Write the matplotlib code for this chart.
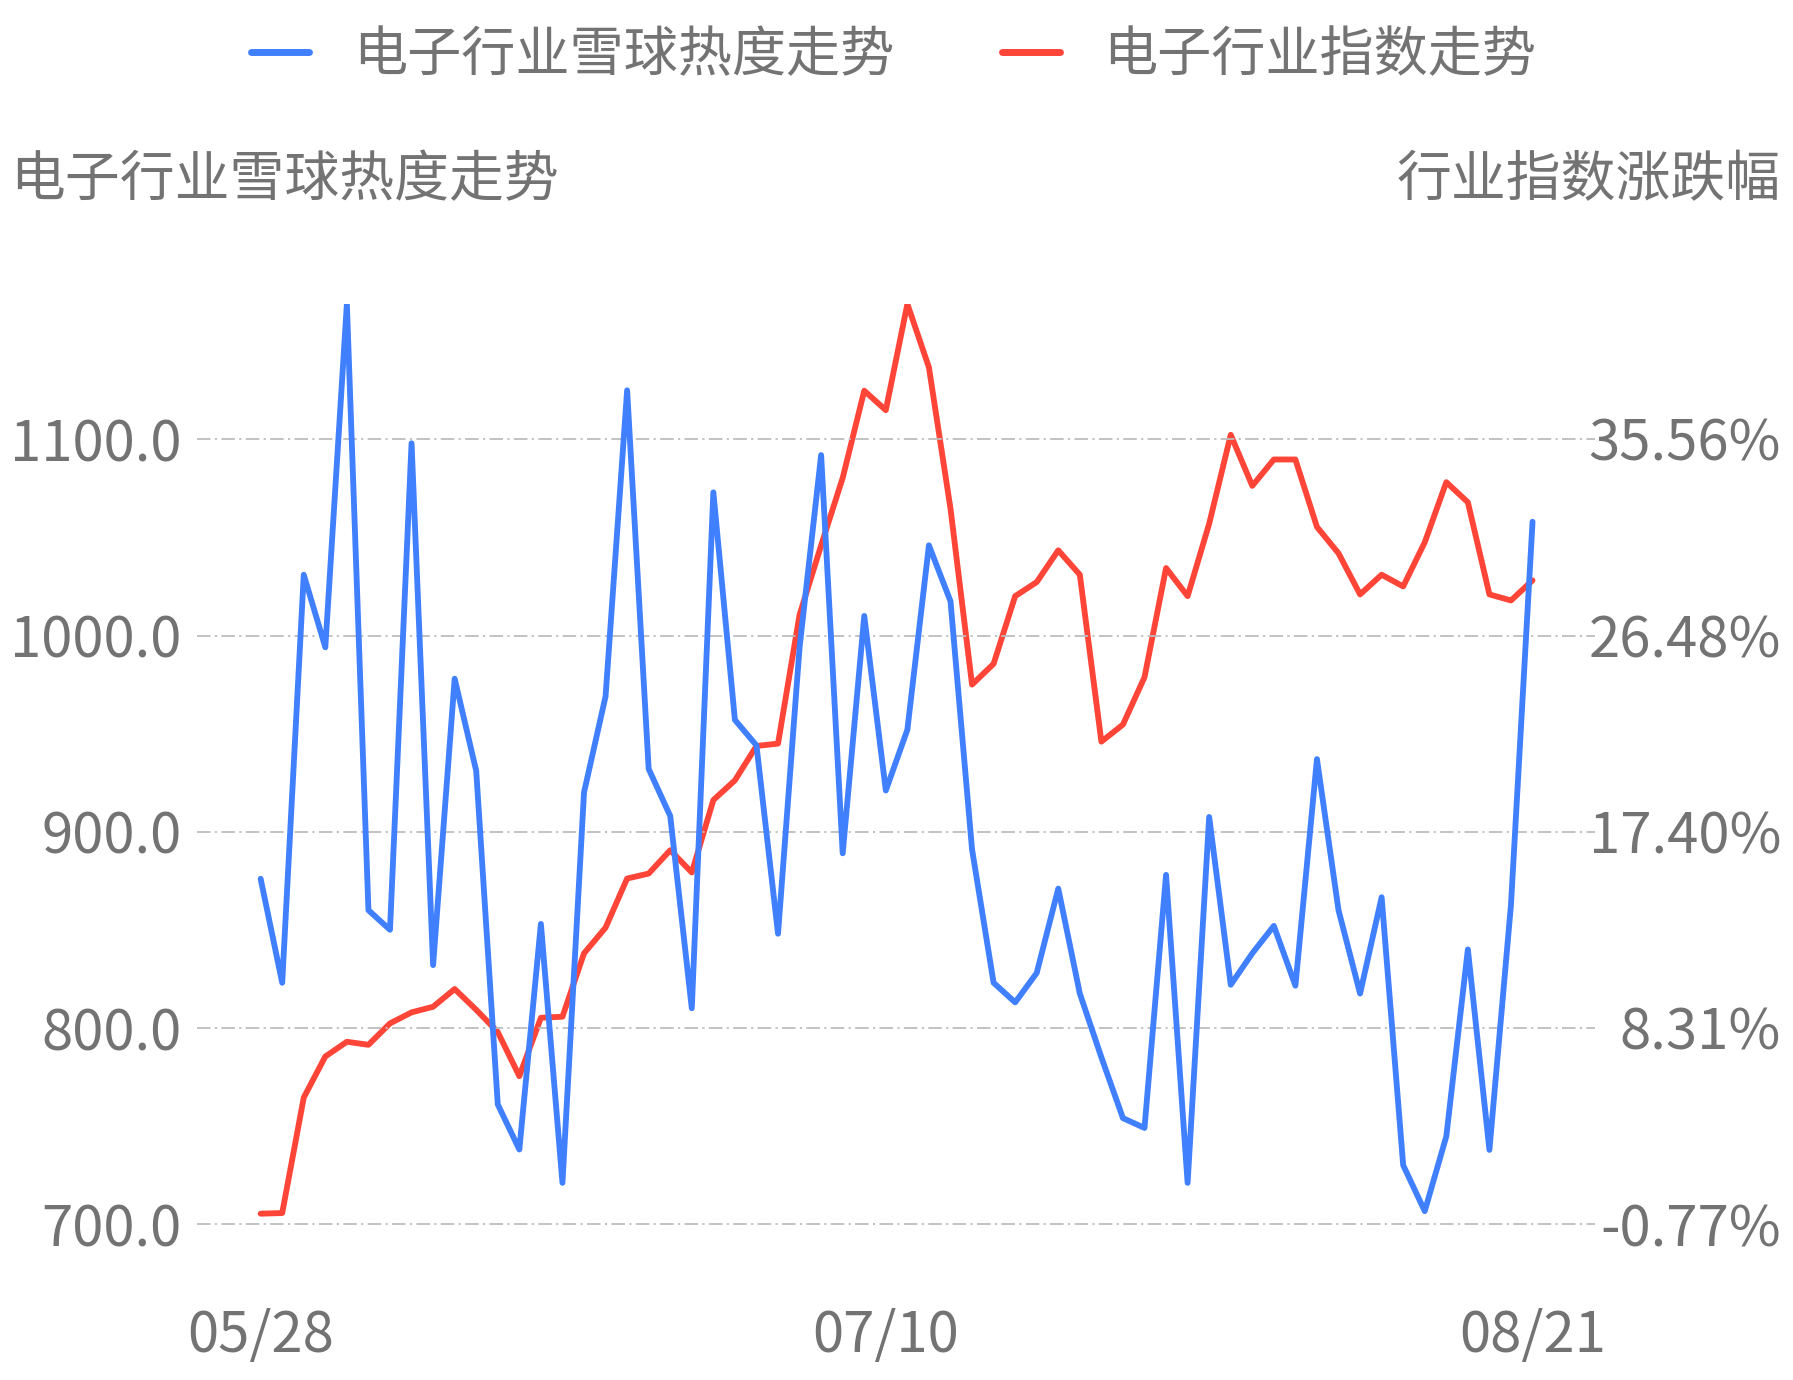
import matplotlib
matplotlib.use('Agg')
import matplotlib.pyplot as plt
from matplotlib.lines import Line2D
import numpy as np

plt.rcParams['font.family'] = ['Noto Sans CJK SC', 'DejaVu Sans']

# snowball heat of the electronics sector (left axis)
heat = [876, 823, 1031, 994, 1169, 860, 850, 1098, 832, 978,
        931, 761, 738, 853, 721, 920, 969, 1125, 932, 908,
        810, 1073, 957, 944, 848, 994, 1092, 889, 1010, 921,
        952, 1046, 1017.5, 891, 823, 813, 828, 871, 817.5, 785,
        754, 749, 878, 721, 907.5, 822, 838, 852, 821.5, 937,
        860, 817.5, 866.6, 730, 706.6, 744.7, 840, 737.8, 862.8, 1058]

# electronics sector index change in % (right axis)
index_pct = [-0.29, -0.26, 5.08, 6.98, 7.66, 7.52, 8.51, 9.02, 9.28, 10.10,
             9.14, 8.11, 6.07, 8.77, 8.82, 11.75, 12.94, 15.21, 15.44, 16.52,
             15.49, 18.84, 19.75, 21.34, 21.45, 27.41, 30.62, 33.74, 37.77, 36.87,
             41.78, 38.85, 32.32, 24.18, 25.14, 28.27, 28.92, 30.39, 29.26, 21.54,
             22.33, 24.52, 29.57, 28.27, 31.62, 35.73, 33.37, 34.59, 34.59, 31.47,
             30.25, 28.35, 29.26, 28.72, 30.76, 33.54, 32.61, 28.35, 28.07, 29.00]

x_tick_pos = [0, 29, 59]
x_tick_labels = ['05/28', '07/10', '08/21']
left_ticks = [700, 800, 900, 1000, 1100]
right_ticks = [-0.77, 8.31, 17.40, 26.48, 35.56]

series_names = ['电子行业雪球热度走势', '电子行业指数走势']
left_title = '电子行业雪球热度走势'
right_title = '行业指数涨跌幅'

BLUE = '#4080FF'
RED = '#FF4438'
TXT = '#737373'
GRID = '#BDBDBD'
FS = 39
NUM_FS = 40.5

fig = plt.figure(figsize=(17.93, 13.80), dpi=100, facecolor='white')
ax = fig.add_axes([0.1099, 0.1130, 0.7797, 0.6667])
ax2 = ax.twinx()

x = np.arange(len(heat))
ax.plot(x, heat, color=BLUE, lw=4.2, solid_joinstyle='round', solid_capstyle='round', zorder=3)
ax2.plot(x, index_pct, color=RED, lw=4.2, solid_joinstyle='round', solid_capstyle='round', zorder=3)

ax.set_xlim(-2.95, 61.9)
ax.set_ylim(700, max(heat))
ax2.set_ylim(right_ticks[0], max(index_pct))

for t in left_ticks:
    ax.axhline(t, color=GRID, lw=1.3, ls=(0, (7.5, 2.4, 1.2, 2.4)), zorder=1, clip_on=False)

ax.set_yticks(left_ticks)
ax.set_yticklabels([f'{v:.1f}' for v in left_ticks])
ax2.set_yticks(right_ticks)
ax2.set_yticklabels([f'{v:.2f}%' for v in right_ticks])
ax.set_xticks(x_tick_pos)
ax.set_xticklabels(x_tick_labels)

ax.tick_params(axis='y', length=0, pad=11, labelsize=NUM_FS, labelcolor=TXT)
ax.tick_params(axis='x', length=0, pad=60, labelsize=NUM_FS, labelcolor=TXT)
ax2.tick_params(axis='y', length=0, pad=134, labelsize=NUM_FS, labelcolor=TXT)
for lab in ax2.get_yticklabels():
    lab.set_horizontalalignment('right')

for a in (ax, ax2):
    for s in a.spines.values():
        s.set_visible(False)
ax.set_zorder(ax2.get_zorder() + 1)
ax.patch.set_visible(False)

fig.text(10 / 1793, 1 - 180 / 1380, left_title, fontsize=FS + 0.5, color=TXT, ha='left', va='center')
fig.text(1781 / 1793, 1 - 180 / 1380, right_title, fontsize=FS + 0.5, color=TXT, ha='right', va='center')

handles = [Line2D([], [], color=BLUE, lw=5, solid_capstyle='round'),
           Line2D([], [], color=RED, lw=5, solid_capstyle='round')]
fig.legend(handles, series_names, loc='center', bbox_to_anchor=(0.4986, 0.960), ncol=2,
           frameon=False, fontsize=FS, labelcolor=TXT, handlelength=1.07,
           handletextpad=0.8, columnspacing=2.0, borderpad=0, borderaxespad=0)

fig.savefig('out.png', dpi=100, facecolor='white')
